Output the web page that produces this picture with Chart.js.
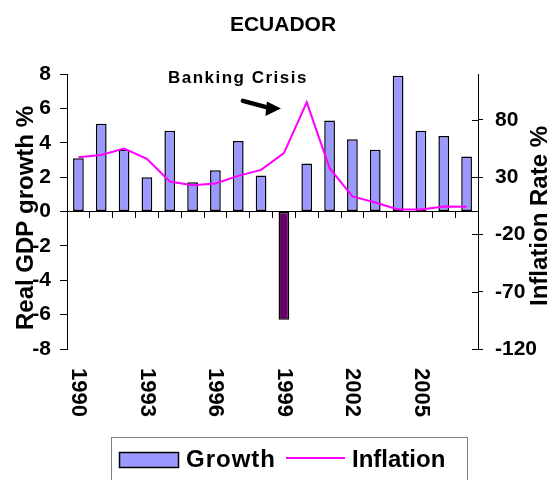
<!DOCTYPE html>
<html><head><meta charset="utf-8">
<script src="https://cdn.jsdelivr.net/npm/chart.js@4"></script>
<style>html,body{margin:0;padding:0;background:#fff}#wrap{width:550px;height:480px;position:relative}</style>
</head><body><div id="wrap"><canvas id="c" width="550" height="480"></canvas></div>
<script>
const years = ['1990','1991','1992','1993','1994','1995','1996','1997','1998','1999','2000','2001','2002','2003','2004','2005','2006','2007'];
const growth = [3.1, 5.1, 3.6, 2.0, 4.7, 1.7, 2.4, 4.1, 2.1, -6.3, 2.8, 5.3, 4.2, 3.6, 7.9, 4.7, 4.4, 3.2];
const inflation = [47.4, 49.4, 55.0, 45.9, 26.2, 23.0, 24.4, 31.1, 36.3, 50.9, 95.3, 37.8, 13.1, 7.8, 1.7, 1.7, 4.4, 4.2];
const growthTicks = [-8, -6, -4, -2, 0, 2, 4, 6, 8];
const inflationTicks = [-120, -70, -20, 30, 80];
const yearLabelStep = 3;
const crisisYear = '1999';
const FONT = '"Liberation Sans", Arial, sans-serif';

const decor = {
  id: 'decor',
  afterDraw(chart) {
    const {ctx, chartArea: ca} = chart;
    const x = chart.scales.x, y = chart.scales.y, y1 = chart.scales.y1;
    ctx.save();
    ctx.fillStyle = '#000';
    // title
    ctx.font = `bold 21px ${FONT}`;
    ctx.textAlign = 'center'; ctx.textBaseline = 'alphabetic';
    ctx.fillText('ECUADOR', 283, 31);
    // year labels rotated clockwise
    ctx.font = `bold 22px ${FONT}`;
    years.forEach((yr, i) => {
      if (i % yearLabelStep) return;
      const px = x.getPixelForValue(i);
      ctx.save();
      ctx.translate(px, ca.bottom + 19);
      ctx.rotate(Math.PI / 2);
      ctx.textAlign = 'left'; ctx.textBaseline = 'middle';
      ctx.fillText(yr, 0, 0);
      ctx.restore();
    });
    // inner part of right ticks
    ctx.strokeStyle = '#000'; ctx.lineWidth = 1;
    inflationTicks.forEach(v => {
      const py = Math.round(y1.getPixelForValue(v)) + 0.5;
      ctx.beginPath(); ctx.moveTo(ca.right - 6, py); ctx.lineTo(ca.right, py); ctx.stroke();
    });
    // axis titles
    ctx.font = `bold 24px ${FONT}`;
    ctx.save();
    ctx.translate(33, 218); ctx.rotate(-Math.PI / 2);
    ctx.textAlign = 'center'; ctx.textBaseline = 'alphabetic';
    ctx.fillText('Real GDP growth %', 0, 0);
    ctx.restore();
    ctx.save();
    ctx.translate(547, 216); ctx.rotate(-Math.PI / 2);
    ctx.textAlign = 'center'; ctx.textBaseline = 'alphabetic';
    ctx.fillText('Inflation Rate %', 0, 0);
    ctx.restore();
    // annotation
    const ci = years.indexOf(crisisYear);
    const tipX = x.getPixelForValue(ci) - 3;
    const tipY = y.getPixelForValue(6);
    ctx.save();
    ctx.font = `bold 17px ${FONT}`;
    ctx.letterSpacing = '1.5px';
    ctx.textAlign = 'left';
    ctx.fillText('Banking Crisis', tipX - 113, tipY - 25);
    ctx.restore();
    ctx.lineWidth = 4.5; ctx.lineCap = 'round';
    ctx.beginPath(); ctx.moveTo(tipX - 38, tipY - 7.5); ctx.lineTo(tipX - 10, tipY); ctx.stroke();
    ctx.beginPath();
    ctx.moveTo(tipX - 14, tipY - 7); ctx.lineTo(tipX, tipY); ctx.lineTo(tipX - 15.5, tipY + 7.5);
    ctx.closePath(); ctx.fill();
    // legend
    ctx.lineCap = 'butt';
    ctx.strokeStyle = '#808080'; ctx.lineWidth = 1;
    ctx.strokeRect(111.5, 437.5, 356, 60);
    ctx.fillStyle = '#9999FF'; ctx.fillRect(119, 452, 60, 16);
    ctx.strokeStyle = '#000'; ctx.lineWidth = 1.5; ctx.strokeRect(119.5, 452.5, 59, 15);
    ctx.fillStyle = '#000';
    ctx.font = `bold 24px ${FONT}`;
    ctx.textAlign = 'left'; ctx.textBaseline = 'alphabetic';
    ctx.save(); ctx.letterSpacing = '1px';
    ctx.fillText('Growth', 186, 467); ctx.restore();
    ctx.strokeStyle = '#FF00FF'; ctx.lineWidth = 2;
    ctx.beginPath(); ctx.moveTo(286, 458); ctx.lineTo(345, 458); ctx.stroke();
    ctx.fillText('Inflation', 352, 467);
    ctx.restore();
  }
};

const tickFont = {family: FONT, size: 21, weight: 'bold'};

new Chart(document.getElementById('c'), {
  data: {
    labels: years,
    datasets: [
      {
        type: 'line', label: 'Inflation', data: inflation, yAxisID: 'y1', order: 0,
        borderColor: '#FF00FF', borderWidth: 2, pointRadius: 0, tension: 0, fill: false
      },
      {
        type: 'bar', label: 'Growth', data: growth, yAxisID: 'y', order: 1,
        backgroundColor: ctx => (ctx.raw < 0 ? '#660066' : '#9999FF'),
        borderColor: '#000', borderWidth: 1.5, borderSkipped: false,
        barPercentage: 0.47, categoryPercentage: 1.0
      }
    ]
  },
  options: {
    responsive: false, animation: false, devicePixelRatio: 1,
    layout: {padding: {top: 74, bottom: 131, left: 0, right: 0}},
    plugins: {legend: {display: false}, tooltip: {enabled: false}, title: {display: false}},
    scales: {
      x: {
        type: 'category', position: {y: 0}, offset: true,
        afterFit: s => { s.height = 0; },
        grid: {offset: true, drawOnChartArea: false, drawTicks: true, tickLength: 6, color: '#000', lineWidth: 1},
        border: {display: true, color: '#000', width: 1},
        ticks: {display: false}
      },
      y: {
        type: 'linear', position: 'left', min: -8, max: 8,
        afterBuildTicks: s => { s.ticks = growthTicks.map(v => ({value: v})); },
        afterFit: s => { s.width = 67; },
        grid: {drawOnChartArea: false, tickLength: 7, color: '#000'},
        border: {display: true, color: '#000', width: 1},
        ticks: {font: tickFont, color: '#000', padding: 9}
      },
      y1: {
        type: 'linear', position: 'right', min: -120, max: 120,
        afterBuildTicks: s => { s.ticks = inflationTicks.map(v => ({value: v})); },
        afterFit: s => { s.width = 72; },
        grid: {drawOnChartArea: false, tickLength: 5, color: '#000'},
        border: {display: true, color: '#000', width: 1},
        ticks: {font: tickFont, color: '#000', padding: 12}
      }
    }
  },
  plugins: [decor]
});
</script>
</body></html>
